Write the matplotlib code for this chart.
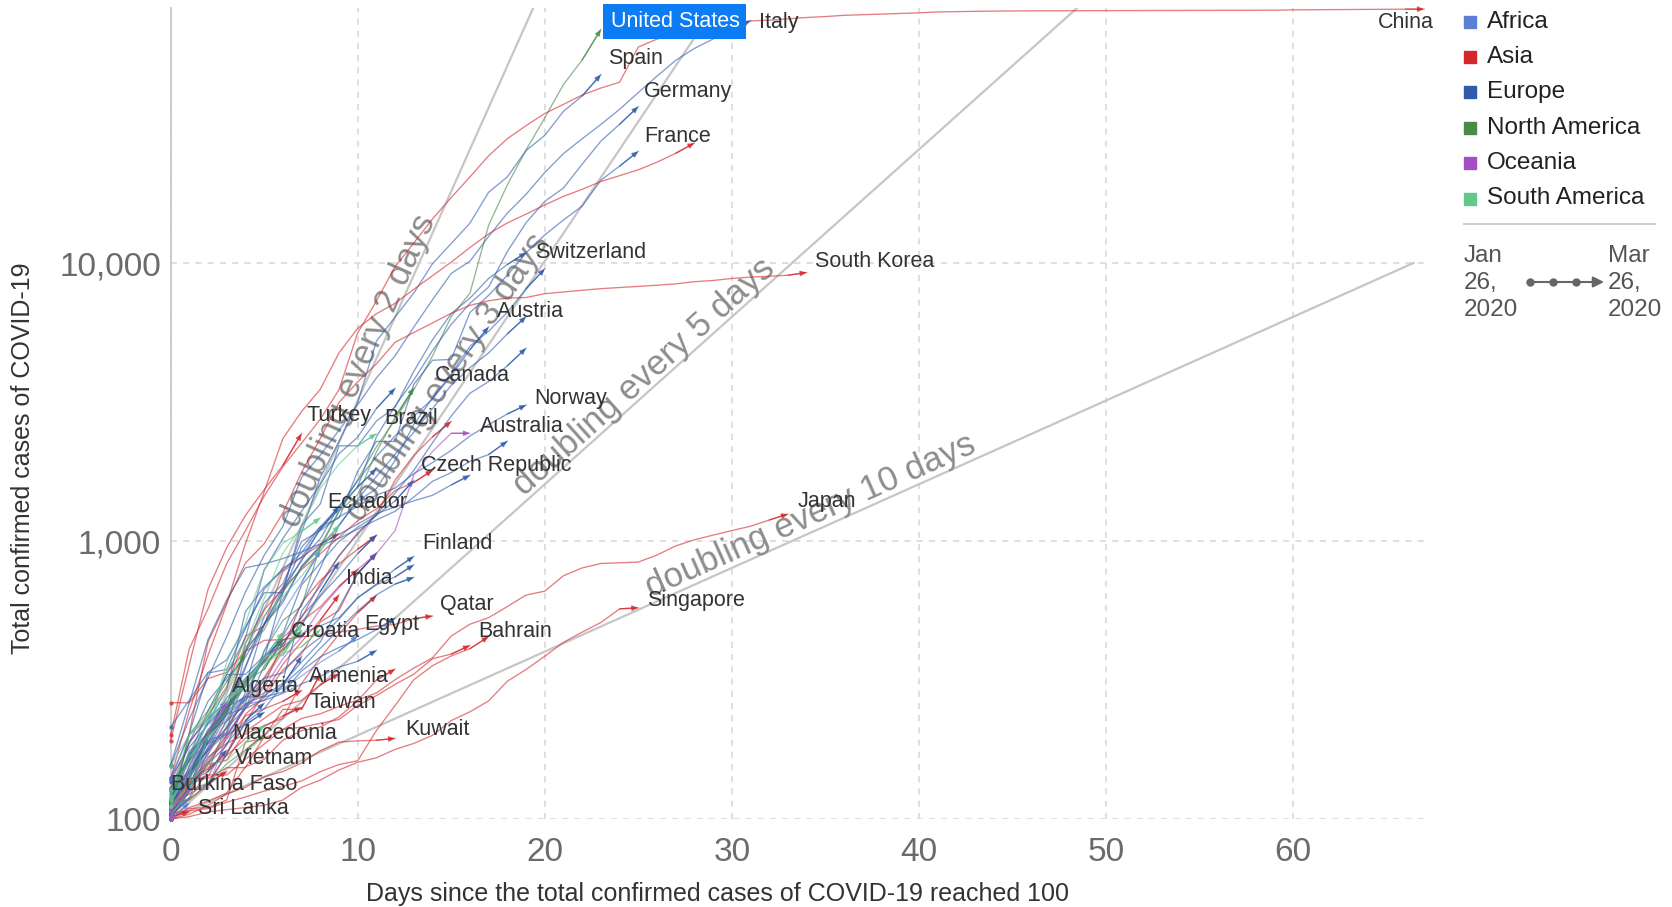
import numpy as np
import matplotlib.pyplot as plt
from matplotlib.patches import Rectangle, FancyArrowPatch
from matplotlib.lines import Line2D

plt.rcParams['font.family'] = ['Liberation Sans', 'DejaVu Sans']

W, H = 1672, 907

continents = ['Africa', 'Asia', 'Europe', 'North America', 'Oceania', 'South America']
continent_colors = ['#5b7fd5', '#d3272b', '#2f5cab', '#478a49', '#a54dc4', '#62c98a']

# total confirmed cases, one value per day since the country passed 100 cases
china = [200, 410, 570, 830, 1090, 1450, 1850, 2250, 2740, 3500, 5600, 7300, 9700, 11800,
         14400, 17200, 20400, 24300, 28000, 31200, 34500, 37200, 40200, 42600, 44700, 59800,
         63900, 66500, 68500, 70500, 72400, 74300, 74700, 75600, 76400, 77000, 77800, 78200,
         78600, 79000, 79400, 80000, 80200, 80400, 80550, 80650, 80740, 80780, 80820, 80860,
         80880, 80920, 80950, 80980, 81000, 81030, 81060, 81090, 81120, 81150, 81400, 81470,
         81550, 81620, 81700, 81780, 81840, 81900]
italy = [155, 229, 322, 453, 655, 888, 1128, 1694, 2036, 2502, 3089, 3858, 4636, 5883, 7375,
         9172, 10149, 12462, 15113, 17660, 21157, 24747, 27980, 31506, 35713, 41035, 47021,
         53578, 59138, 63927, 69176, 74386]
united_states = [103, 118, 149, 217, 262, 402, 518, 583, 959, 1281, 1663, 2179, 2726, 3499,
                 4632, 6421, 7786, 13680, 19101, 25493, 33276, 43847, 53740, 69200]
spain = [120, 165, 222, 259, 400, 500, 673, 1073, 1695, 2277, 3146, 5232, 6391, 7798, 9942,
         11748, 13910, 17963, 20410, 25374, 28768, 35136, 39885, 47610]
germany = [117, 150, 188, 240, 349, 534, 684, 847, 1112, 1296, 1567, 2369, 3062, 3795, 4838,
           6012, 7156, 8198, 10999, 13957, 16662, 18610, 22672, 27436, 31554, 36508]
france = [100, 130, 191, 204, 285, 377, 653, 949, 1126, 1209, 1784, 2281, 2281, 3661, 4469,
          4499, 6633, 7652, 9043, 10871, 12612, 14282, 16018, 19856, 22304, 25233]
iran = [139, 245, 388, 593, 978, 1501, 2336, 2922, 3513, 4747, 5823, 6566, 7161, 8042, 9000,
        10075, 11364, 12729, 13938, 14991, 16169, 17361, 18407, 19644, 20610, 21638, 23049,
        24811, 27017]
south_korea = [104, 204, 433, 602, 833, 977, 1261, 1766, 2337, 3150, 3736, 4335, 5186, 5621,
               6088, 6593, 7041, 7314, 7478, 7513, 7755, 7869, 7979, 8086, 8162, 8236, 8320,
               8413, 8565, 8652, 8799, 8897, 8961, 9037, 9241]
japan = [105, 132, 144, 144, 164, 186, 210, 230, 239, 254, 268, 284, 317, 349, 380, 455, 502,
         530, 581, 639, 660, 750, 800, 830, 835, 840, 890, 960, 1010, 1050, 1090, 1130, 1190,
         1250]
singapore = [100, 102, 106, 108, 110, 112, 117, 130, 138, 150, 160, 166, 178, 187, 200, 226,
             243, 266, 313, 345, 385, 432, 470, 509, 570, 575]
bahrain = [100, 109, 110, 117, 189, 195, 210, 214, 221, 228, 256, 278, 305, 332, 377, 392, 421]
kuwait = [100, 104, 112, 123, 130, 142, 148, 159, 176, 189, 191, 192, 195]
qatar = [262, 262, 320, 337, 401, 439, 442, 452, 460, 470, 481, 494, 501, 526, 537]
india = [114, 137, 151, 173, 223, 283, 360, 434, 519, 640]
turkey = [191, 359, 670, 947, 1236, 1529, 1872, 2433]
armenia = [115, 136, 160, 194, 235, 249, 265, 290]
taiwan = [108, 135, 153, 169, 195, 215, 235, 252]
vietnam = [113, 123, 134, 148]
sri_lanka = [102, 106]
israel = [100, 126, 164, 200, 250, 304, 427, 529, 705, 883, 1071, 1238, 1656, 2030, 2369, 2693]
malaysia = [129, 149, 197, 238, 428, 566, 673, 790, 900, 1030, 1183, 1306, 1518, 1624, 1796]
thailand = [114, 147, 177, 212, 272, 322, 411, 599, 721, 827, 934, 1045]
indonesia = [117, 134, 172, 227, 309, 369, 450, 514, 579, 686, 790]
philippines = [111, 140, 142, 187, 202, 217, 230, 307, 380, 462, 552, 636]
pakistan = [136, 187, 236, 299, 454, 495, 776, 875, 972, 1063]
saudi_arabia = [103, 118, 133, 171, 238, 274, 344, 392, 511, 562, 767, 900]
uae = [113, 140, 140, 153, 153, 198, 248, 248, 333]
lebanon = [110, 133, 157, 163, 206, 230, 256, 267, 304, 333]
iraq = [101, 110, 116, 124, 154, 164, 192, 208, 214, 233, 266, 316, 346]
hong_kong = [105, 107, 109, 115, 120, 126, 131, 137, 148, 157, 162, 208, 256, 317, 356, 386,
             410, 453]
united_kingdom = [115, 163, 206, 273, 321, 373, 456, 590, 798, 1140, 1391, 1543, 1950, 2626,
                  3269, 3983, 5018, 5683, 6650, 8077, 9529]
netherlands = [128, 188, 265, 321, 382, 503, 614, 804, 959, 1135, 1413, 1705, 2051, 2460,
               2994, 3631, 4204, 4749, 5560, 6412]
belgium = [109, 169, 200, 239, 267, 314, 314, 559, 689, 886, 1058, 1243, 1486, 1795, 2257,
           2815, 3401, 3743, 4269, 4937]
switzerland = [214, 268, 337, 374, 491, 652, 652, 1139, 1359, 2200, 2200, 2700, 3028, 4075,
               5294, 6575, 7474, 8795, 9877, 10897]
austria = [104, 131, 182, 246, 302, 504, 655, 860, 1018, 1332, 1646, 2013, 2388, 2814, 3244,
           3924, 4876, 5888]
norway = [113, 147, 176, 205, 400, 598, 702, 996, 1090, 1221, 1333, 1463, 1550, 1746, 1914,
          2118, 2385, 2621, 2863, 3084]
sweden = [137, 161, 203, 248, 355, 500, 599, 814, 961, 1022, 1103, 1190, 1279, 1439, 1639,
          1763, 1934, 2046, 2286]
denmark = [156, 262, 442, 615, 801, 827, 864, 914, 977, 1057, 1151, 1255, 1326, 1395, 1460,
           1591, 1724]
portugal = [112, 169, 245, 331, 448, 785, 1020, 1280, 1600, 2060, 2362, 2995, 3544]
ireland = [129, 169, 223, 292, 557, 683, 785, 906, 1125, 1329, 1564, 1819]
luxembourg = [140, 203, 335, 345, 484, 670, 798, 875, 1099, 1333]
poland = [103, 119, 177, 238, 251, 355, 425, 536, 634, 749, 901, 1051]
czech_republic = [116, 141, 189, 253, 298, 383, 464, 694, 833, 995, 1120, 1236, 1394, 1654]
finland = [109, 155, 210, 244, 277, 321, 336, 400, 450, 523, 626, 700, 792, 880]
greece = [117, 190, 228, 331, 331, 387, 418, 464, 495, 530, 624, 695, 743, 821]
iceland = [109, 142, 180, 213, 250, 268, 303, 348, 411, 480, 560, 640, 700, 740]
romania = [123, 131, 158, 184, 260, 277, 308, 367, 433, 576, 762, 906]
russia = [114, 147, 199, 253, 306, 367, 438, 495, 658, 840]
serbia = [103, 126, 135, 171, 222, 249, 303, 384]
slovenia = [141, 181, 219, 253, 275, 275, 286, 341, 383, 414, 442, 480, 528]
estonia = [115, 171, 205, 225, 258, 267, 283, 306, 326, 352, 369, 404]
croatia = [105, 128, 206, 254, 315, 382, 442]
macedonia = [114, 136, 148, 177]
ukraine = [113, 145, 196]
bulgaria = [127, 163, 187, 201, 218, 242]
hungary = [103, 131, 167, 187, 226, 261]
egypt = [126, 150, 196, 196, 256, 285, 294, 327, 366, 402, 456]
south_africa = [116, 150, 202, 240, 274, 402, 554, 709, 927]
algeria = [139, 201, 230, 264]
morocco = [115, 143, 170, 225, 275]
tunisia = [114, 173, 197]
burkina_faso = [100, 114]
senegal = [105, 119]
canada = [117, 176, 198, 252, 415, 478, 657, 800, 943, 1277, 1469, 2088, 2790, 3555]
mexico = [118, 164, 203, 251, 316, 367, 405, 475]
panama = [109, 137, 200, 245, 313, 345, 443]
dominican_republic = [112, 202, 245, 312, 392]
costa_rica = [113, 117, 134, 158, 177, 201]
brazil = [121, 200, 234, 291, 428, 621, 904, 1128, 1546, 1891, 2201, 2433]
ecuador = [111, 168, 199, 367, 506, 789, 981, 1082, 1211]
chile = [155, 201, 238, 342, 434, 537, 632, 746, 922, 1142]
peru = [117, 145, 234, 263, 318, 363, 395, 416, 480]
argentina = [128, 158, 225, 266, 301, 387, 387, 502]
colombia = [102, 128, 196, 231, 306, 378, 470]
uruguay = [110, 135, 158, 162, 189, 217]
australia = [107, 128, 128, 200, 250, 297, 377, 452, 568, 681, 791, 900, 1090, 1730, 2100,
             2440, 2440]
new_zealand = [102, 155, 205, 262]

countries = [
    ('China', 'Asia', china), ('Italy', 'Europe', italy),
    ('United States', 'North America', united_states), ('Spain', 'Europe', spain),
    ('Germany', 'Europe', germany), ('France', 'Europe', france), ('Iran', 'Asia', iran),
    ('South Korea', 'Asia', south_korea), ('Japan', 'Asia', japan),
    ('Singapore', 'Asia', singapore), ('Bahrain', 'Asia', bahrain), ('Kuwait', 'Asia', kuwait),
    ('Qatar', 'Asia', qatar), ('India', 'Asia', india), ('Turkey', 'Asia', turkey),
    ('Armenia', 'Asia', armenia), ('Taiwan', 'Asia', taiwan), ('Vietnam', 'Asia', vietnam),
    ('Sri Lanka', 'Asia', sri_lanka), ('Israel', 'Asia', israel), ('Malaysia', 'Asia', malaysia),
    ('Thailand', 'Asia', thailand), ('Indonesia', 'Asia', indonesia),
    ('Philippines', 'Asia', philippines), ('Pakistan', 'Asia', pakistan),
    ('Saudi Arabia', 'Asia', saudi_arabia), ('United Arab Emirates', 'Asia', uae),
    ('Lebanon', 'Asia', lebanon), ('Iraq', 'Asia', iraq), ('Hong Kong', 'Asia', hong_kong),
    ('United Kingdom', 'Europe', united_kingdom), ('Netherlands', 'Europe', netherlands),
    ('Belgium', 'Europe', belgium), ('Switzerland', 'Europe', switzerland),
    ('Austria', 'Europe', austria), ('Norway', 'Europe', norway), ('Sweden', 'Europe', sweden),
    ('Denmark', 'Europe', denmark), ('Portugal', 'Europe', portugal),
    ('Ireland', 'Europe', ireland), ('Luxembourg', 'Europe', luxembourg),
    ('Poland', 'Europe', poland), ('Czech Republic', 'Europe', czech_republic),
    ('Finland', 'Europe', finland), ('Greece', 'Europe', greece), ('Iceland', 'Europe', iceland),
    ('Romania', 'Europe', romania), ('Russia', 'Europe', russia), ('Serbia', 'Europe', serbia),
    ('Slovenia', 'Europe', slovenia), ('Estonia', 'Europe', estonia),
    ('Croatia', 'Europe', croatia), ('Macedonia', 'Europe', macedonia),
    ('Ukraine', 'Europe', ukraine), ('Bulgaria', 'Europe', bulgaria),
    ('Hungary', 'Europe', hungary), ('Egypt', 'Africa', egypt),
    ('South Africa', 'Africa', south_africa), ('Algeria', 'Africa', algeria),
    ('Morocco', 'Africa', morocco), ('Tunisia', 'Africa', tunisia),
    ('Burkina Faso', 'Africa', burkina_faso), ('Senegal', 'Africa', senegal),
    ('Canada', 'North America', canada), ('Mexico', 'North America', mexico),
    ('Panama', 'North America', panama),
    ('Dominican Republic', 'North America', dominican_republic),
    ('Costa Rica', 'North America', costa_rica), ('Brazil', 'South America', brazil),
    ('Ecuador', 'South America', ecuador), ('Chile', 'South America', chile),
    ('Peru', 'South America', peru), ('Argentina', 'South America', argentina),
    ('Colombia', 'South America', colombia), ('Uruguay', 'South America', uruguay),
    ('Australia', 'Oceania', australia), ('New Zealand', 'Oceania', new_zealand),
]

# where the country names sit (day, cases)
label_names = ['Italy', 'Spain', 'Germany', 'France', 'Switzerland', 'South Korea', 'Austria',
               'Canada', 'Norway', 'Turkey', 'Brazil', 'Australia', 'Czech Republic',
               'Ecuador', 'Japan', 'Finland', 'India', 'Singapore', 'Qatar', 'Egypt',
               'Croatia', 'Bahrain', 'Armenia', 'Algeria', 'Taiwan', 'Kuwait', 'Macedonia',
               'Vietnam', 'Burkina Faso', 'Sri Lanka']
label_days = [31.45, 23.36, 25.3, 25.3, 19.49, 34.47, 17.44, 14.13, 19.43, 7.24, 11.4, 16.52,
              13.39, 8.38, 33.5, 13.45, 9.4, 25.47, 14.42, 10.37, 6.44, 16.47, 7.41, 3.3,
              7.41, 12.54, 3.3, 3.42, 0.0, 1.48]
label_cases = [73400, 54400, 41400, 28600, 10900, 10100, 6670, 3930, 3260, 2830, 2760, 2590,
               1870, 1374, 1387, 981, 734, 610, 589, 502, 472, 472, 326, 299, 262, 210, 203,
               165, 133, 109]

doubling_periods = [2, 3, 5, 10]
doubling_label_days = [10.0, 14.8, 25.3, 34.2]
doubling_label_cases = [4100, 3890, 3890, 1236]
doubling_end_day = 66.44

timeline_start = 'Jan\n26,\n2020'
timeline_end = 'Mar\n26,\n2020'

color_of = dict(zip(continents, continent_colors))

fig = plt.figure(figsize=(W / 100, H / 100), dpi=100)
ax = fig.add_axes([170.6 / W, 88 / H, (1424 - 170.6) / W, 811.5 / H])
ax.set_yscale('log')
ax.set_xlim(0, 67)
ax.set_ylim(100, 83000)
ax.set_xticks(range(0, 61, 10))
ax.set_yticks([100, 1000, 10000])
ax.set_yticklabels([f'{v:,}' for v in [100, 1000, 10000]])
ax.yaxis.set_minor_locator(plt.NullLocator())
ax.tick_params(length=0, labelsize=24, labelcolor='#6b6b6b')
ax.tick_params(axis='x', pad=13)
ax.tick_params(axis='y', pad=7)
ax.set_axisbelow(True)
ax.grid(True, color='#d6d6d6', lw=1.1, ls=(0, (4, 4)))
for side in ['top', 'right', 'bottom']:
    ax.spines[side].set_visible(False)
ax.spines['left'].set_color('#c8c8c8')
ax.spines['left'].set_linewidth(1.3)

# reference lines for constant doubling times
for n, d, v in zip(doubling_periods, doubling_label_days, doubling_label_cases):
    xs = np.linspace(0, doubling_end_day, 400)
    ax.plot(xs, 100 * 2 ** (xs / n), color='#c6c6c6', lw=1.6, zorder=2)
    p1 = ax.transData.transform((0, 100))
    p2 = ax.transData.transform((10, 100 * 2 ** (10 / n)))
    angle = np.degrees(np.arctan2(p2[1] - p1[1], p2[0] - p1[0]))
    ax.text(d, v, f'doubling every {n} days', rotation=angle, rotation_mode='anchor',
            ha='center', va='center', fontsize=25, color='#8d8d8d', zorder=2)

# one trajectory per country, ending in a small arrow head
for name, region, cases in countries:
    c = color_of[region]
    days = np.arange(len(cases))
    ax.plot(days, cases, color=c, lw=0.95, alpha=0.6, zorder=3, clip_on=False)
    ax.plot(days[:1], cases[:1], 'o', ms=2.2, color=c, alpha=0.6, zorder=3, clip_on=False)
    if len(cases) > 1:
        ax.annotate('', xy=(days[-1], cases[-1]), xytext=(days[-2], cases[-2]),
                    annotation_clip=False, zorder=3,
                    arrowprops=dict(arrowstyle='-|>,head_length=0.5,head_width=0.22',
                                    color=c, alpha=0.7, lw=0.95, mutation_scale=7,
                                    shrinkA=0, shrinkB=0))

for name, d, v in zip(label_names, label_days, label_cases):
    ax.text(d, v, name, fontsize=15.5, color='#333333', ha='left', va='center', zorder=5)
ax.text(67.5, 73400, 'China', fontsize=15.5, color='#333333', ha='right', va='center', zorder=5)
ax.text(26.96, 73900, 'United States', fontsize=15.5, color='white', ha='center', va='center',
        zorder=6, bbox=dict(boxstyle='square,pad=0.33', fc='#0b7cf4', ec='none'))

fig.text(717 / W, 1 - 894 / H, 'Days since the total confirmed cases of COVID-19 reached 100',
         fontsize=18, color='#333333', ha='center', va='center')
fig.text(23.5 / W, 1 - 458.5 / H, 'Total confirmed cases of COVID-19', fontsize=18,
         color='#333333', ha='center', va='center', rotation=90)


def fx(px):
    return px / W


def fy(py):
    return 1 - py / H


# continent key
for i, (name, c) in enumerate(zip(continents, continent_colors)):
    ry = 21.5 + 35.4 * i
    fig.add_artist(Rectangle((fx(1464), fy(ry + 6)), 12 / W, 12 / H, color=c,
                             transform=fig.transFigure))
    fig.text(fx(1487), fy(ry), name, fontsize=17.5, color='#222222', va='center')

fig.add_artist(Line2D([fx(1464), fx(1655)], [fy(224)] * 2, color='#cfcfcf', lw=1.5,
                      transform=fig.transFigure))
fig.text(fx(1464), fy(283), timeline_start, fontsize=17.5, color='#555555', va='center',
         linespacing=1.32)
fig.text(fx(1608), fy(283), timeline_end, fontsize=17.5, color='#555555', va='center',
         linespacing=1.32)
fig.add_artist(Line2D([fx(1530), fx(1576)], [fy(282)] * 2, color='#666666', lw=1.5,
                      transform=fig.transFigure))
fig.add_artist(Line2D([fx(1530), fx(1553), fx(1576)], [fy(282)] * 3, ls='none', marker='o',
                      ms=5, color='#666666', transform=fig.transFigure))
fig.add_artist(FancyArrowPatch((fx(1576), fy(282)), (fx(1604), fy(282)),
                               transform=fig.transFigure, arrowstyle='-|>', lw=1.5,
                               mutation_scale=16, color='#666666', shrinkA=0, shrinkB=0))

fig.savefig('out.png', dpi=100)
